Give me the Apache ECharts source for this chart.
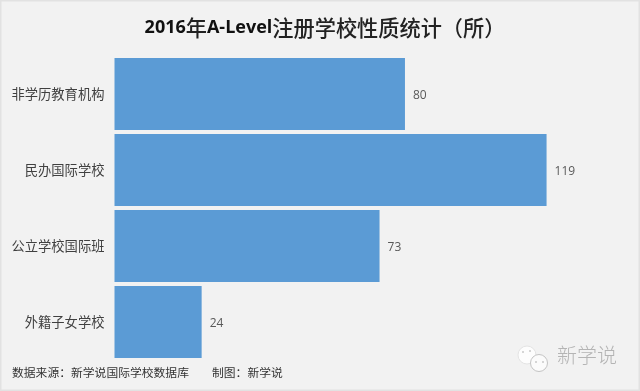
<!DOCTYPE html>
<html><head><meta charset="utf-8">
<style>html,body{margin:0;padding:0;background:#f2f2f2}#c{width:640px;height:391px}</style>
<script src="https://cdn.jsdelivr.net/npm/echarts@6/dist/echarts.min.js"></script>
</head><body><div id="c"></div>
<script>
const categories = ['非学历教育机构','民办国际学校','公立学校国际班','外籍子女学校'];
const values = [80,119,73,24];
const titleParts = [['l','2016'],['c','年'],['l','A-Level'],['c','注册学校性质统计（所）']];
const sourceText = '数据来源：新学说国际学校数据库';
const creditText = '制图：新学说';
const brandText = '新学说';
const cjk = '"Noto Sans CJK SC","Open Sans",sans-serif';
const chart = echarts.init(document.getElementById('c'),null,{renderer:'canvas'});
chart.setOption({
  animation:false,
  backgroundColor:'#f2f2f2',
  title:{text:titleParts.map(p=>'{'+p[0]+'|'+p[1]+'}').join(''),left:320,top:12,textAlign:'center',
    textStyle:{rich:{
      l:{fontFamily:'"Open Sans",sans-serif',fontSize:18,fontWeight:'bold',color:'#111'},
      c:{fontFamily:cjk,fontSize:21.2,fontWeight:500,color:'#222'}}}},
  grid:{left:114.5,top:56,width:472,height:304,containLabel:false},
  xAxis:{type:'value',min:0,max:130,show:false},
  yAxis:{type:'category',inverse:true,data:categories,
    axisLine:{show:false},axisTick:{show:false},
    axisLabel:{fontFamily:cjk,fontSize:13.3,color:'#404040',margin:10,padding:[6,0,0,0]}},
  series:[{type:'bar',data:values,barCategoryGap:'5%',
    itemStyle:{color:'#5b9bd5'},
    label:{show:true,position:'right',distance:8,offset:[0,2],fontFamily:'"Open Sans",sans-serif',fontSize:12,color:'#595959'}}],
  graphic:[
    {type:'rect',shape:{x:0.5,y:0.5,width:639,height:390},style:{fill:'none',stroke:'#e2e2e2',lineWidth:2}},
    {type:'text',x:12,y:367,style:{text:sourceText,fontFamily:cjk,fontSize:11.8,fill:'#333'}},
    {type:'text',x:212,y:367,style:{text:creditText,fontFamily:cjk,fontSize:11.8,fill:'#333'}},
    {type:'circle',shape:{cx:527,cy:355,r:9},style:{fill:'#fdfdfd',stroke:'#e4e4e4',lineWidth:1}},
    {type:'circle',shape:{cx:539,cy:363,r:8.5},style:{fill:'#fbfbfb',stroke:'#c4c4c4',lineWidth:1}},
    {type:'circle',shape:{cx:523,cy:352,r:1},style:{fill:'#c8c8c8'}},
    {type:'circle',shape:{cx:530,cy:351,r:1},style:{fill:'#c8c8c8'}},
    {type:'circle',shape:{cx:536,cy:362,r:1},style:{fill:'#c8c8c8'}},
    {type:'circle',shape:{cx:543,cy:362,r:1},style:{fill:'#c8c8c8'}},
    {type:'text',x:557,y:345,style:{text:brandText,fontFamily:cjk,fontSize:20,fontWeight:300,fill:'#b4b4b4'}}
  ]
});
</script></body></html>
